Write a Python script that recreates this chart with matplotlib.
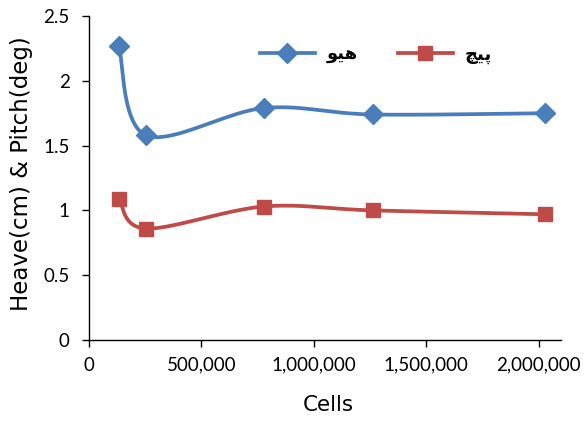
import numpy as np
import matplotlib.pyplot as plt
from matplotlib.ticker import FuncFormatter, MultipleLocator
from matplotlib.lines import Line2D

# --- data ---
cells = [133000, 253000, 778000, 1262000, 2031000]
heave = [2.27, 1.58, 1.79, 1.74, 1.75]
pitch = [1.09, 0.86, 1.03, 1.00, 0.97]
series_labels = ["هیو", "پیچ"]

blue = "#4A7EBB"
red = "#BE4B48"

# matplotlib has no Arabic shaping, so join the letters by hand
FORMS = {  # letter: (isolated, final, initial, medial)
    "ه": ("\uFEE9", "\uFEEA", "\uFEEB", "\uFEEC"),
    "ی": ("\uFBFC", "\uFBFD", "\uFBFE", "\uFBFF"),
    "و": ("\uFEED", "\uFEEE", None, None),
    "پ": ("\uFB56", "\uFB57", "\uFB58", "\uFB59"),
    "چ": ("\uFB7A", "\uFB7B", "\uFB7C", "\uFB7D"),
}


def shape(word):
    out = []
    for i, ch in enumerate(word):
        iso, fin, ini, med = FORMS[ch]
        prev_joins = i > 0 and FORMS[word[i - 1]][2] is not None
        next_joins = i < len(word) - 1 and ini is not None
        if prev_joins and next_joins:
            out.append(med)
        elif prev_joins:
            out.append(fin)
        elif next_joins:
            out.append(ini)
        else:
            out.append(iso)
    return "".join(reversed(out))


def excel_smooth(ax, x, y, n=40):
    # Excel-style smoothed line: cubic Bezier through the points, built in screen space
    pts = ax.transData.transform(np.column_stack([x, y]))
    p = np.vstack([pts[0], pts, pts[-1]])
    t = np.linspace(0, 1, n)[:, None]
    segs = []
    for i in range(1, len(p) - 2):
        p0, p1, p2, p3 = p[i - 1], p[i], p[i + 1], p[i + 2]
        c1 = p1 + (p2 - p0) / 6
        c2 = p2 - (p3 - p1) / 6
        segs.append((1 - t) ** 3 * p1 + 3 * (1 - t) ** 2 * t * c1
                    + 3 * (1 - t) * t ** 2 * c2 + t ** 3 * p2)
    curve = ax.transData.inverted().transform(np.vstack(segs))
    return curve[:, 0], curve[:, 1]


fig = plt.figure(figsize=(5.88, 4.21), dpi=100)
ax = fig.add_axes([89 / 588, 81 / 421, 472 / 588, 324 / 421])
ax.set_xlim(0, 2100000)
ax.set_ylim(0, 2.5)

for ys, col, mk, ms in [(heave, blue, "D", 10), (pitch, red, "s", 10)]:
    sx, sy = excel_smooth(ax, cells, ys)
    ax.plot(sx, sy, color=col, lw=2.7, solid_capstyle="round", zorder=2)
    ax.plot(cells, ys, ls="none", marker=mk, ms=ms, color=col, zorder=3)

ax.xaxis.set_major_locator(MultipleLocator(500000))
ax.yaxis.set_major_locator(MultipleLocator(0.5))
ax.xaxis.set_major_formatter(FuncFormatter(lambda v, p: f"{v:,.0f}"))
ax.yaxis.set_major_formatter(FuncFormatter(lambda v, p: f"{v:g}"))
ax.tick_params(direction="out", length=5, width=1, labelsize=13.5)
ax.tick_params(axis="x", pad=7)
ax.tick_params(axis="y", pad=9)
for lab in ax.get_xticklabels() + ax.get_yticklabels():
    lab.set_family("Lato")
for side in ["top", "right"]:
    ax.spines[side].set_visible(False)
for side in ["left", "bottom"]:
    ax.spines[side].set_linewidth(1)

ax.set_xlabel("Cells", fontsize=15.5, va="center")
ax.xaxis.set_label_coords(0.506, -0.2)
ax.set_ylabel("Heave(cm) & Pitch(deg)", fontsize=16.5, va="center")
ax.yaxis.set_label_coords(-0.144, 0.515)

handles = [Line2D([], [], color=blue, lw=2.7, marker="D", ms=10),
           Line2D([], [], color=red, lw=2.7, marker="s", ms=10)]
leg = ax.legend(handles, [shape(s) for s in series_labels], loc="center left",
                bbox_to_anchor=(0.362, 0.88), ncol=2, frameon=False,
                borderpad=0, borderaxespad=0,
                handlelength=3.05, handletextpad=0.65, columnspacing=2.2,
                prop={"family": "DejaVu Sans", "weight": "bold", "size": 13})

fig.savefig("out.png", dpi=100)
